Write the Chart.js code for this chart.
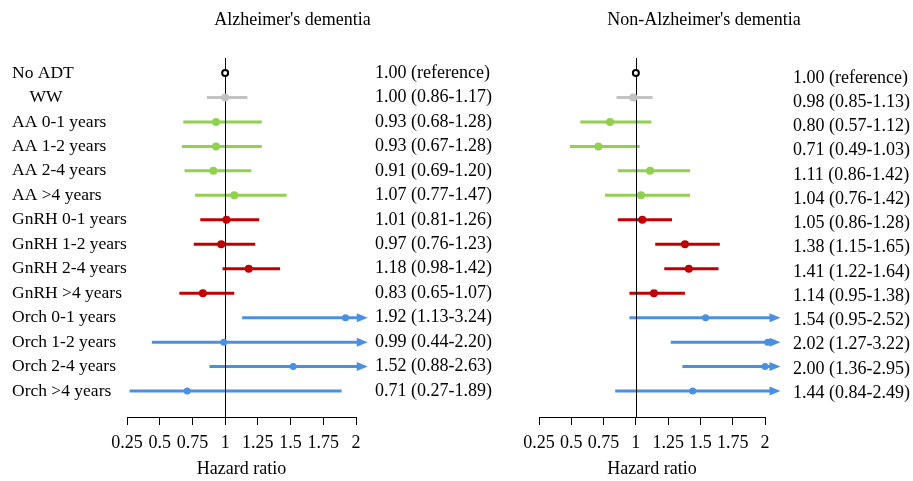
<!DOCTYPE html>
<html>
<head>
<meta charset="utf-8">
<script src="https://cdn.jsdelivr.net/npm/chart.js@4"></script>
<style>
  body { margin: 0; background: #fff; }
  #wrap { position: relative; width: 913px; height: 481px; overflow: hidden; }
  canvas { position: absolute; top: 0; }
</style>
</head>
<body>
<div id="wrap">
  <canvas id="adChart" width="573" height="481" style="left:0"></canvas>
  <canvas id="nonAdChart" width="453" height="481" style="left:460px"></canvas>
</div>
<script>
// Rows (top to bottom)
const rowLabels = [
  "No ADT",
  "    WW",
  "AA 0-1 years",
  "AA 1-2 years",
  "AA 2-4 years",
  "AA >4 years",
  "GnRH 0-1 years",
  "GnRH 1-2 years",
  "GnRH 2-4 years",
  "GnRH >4 years",
  "Orch 0-1 years",
  "Orch 1-2 years",
  "Orch 2-4 years",
  "Orch >4 years",
];
const rowGroups = ["ref", "ww", "aa", "aa", "aa", "aa", "gnrh", "gnrh", "gnrh", "gnrh", "orch", "orch", "orch", "orch"];
const xTicks = [0.25, 0.5, 0.75, 1, 1.25, 1.5, 1.75, 2];

// Alzheimer's dementia
const adHr = [1.0, 1.0, 0.93, 0.93, 0.91, 1.07, 1.01, 0.97, 1.18, 0.83, 1.92, 0.99, 1.52, 0.71];
const adLower = [null, 0.86, 0.68, 0.67, 0.69, 0.77, 0.81, 0.76, 0.98, 0.65, 1.13, 0.44, 0.88, 0.27];
const adUpper = [null, 1.17, 1.28, 1.28, 1.2, 1.47, 1.26, 1.23, 1.42, 1.07, 3.24, 2.2, 2.63, 1.89];

// Non-Alzheimer's dementia
const nonAdHr = [1.0, 0.98, 0.8, 0.71, 1.11, 1.04, 1.05, 1.38, 1.41, 1.14, 1.54, 2.02, 2.0, 1.44];
const nonAdLower = [null, 0.85, 0.57, 0.49, 0.86, 0.76, 0.86, 1.15, 1.22, 0.95, 0.95, 1.27, 1.36, 0.84];
const nonAdUpper = [null, 1.13, 1.12, 1.03, 1.42, 1.42, 1.28, 1.65, 1.64, 1.38, 2.52, 3.22, 2.95, 2.49];

const groupColors = {
  ref: "#000000",
  ww: "#c3c3c3",
  aa: "#92d050",
  gnrh: "#c00000",
  orch: "#4a90e2",
};

Chart.defaults.font.family = "'Liberation Serif', 'Times New Roman', serif";
Chart.defaults.font.size = 18;
Chart.defaults.color = "#000";

const Y_MIN = -0.613;
const Y_MAX = 14.06;

function estimateLabels(hr, lower, upper) {
  return hr.map((v, i) =>
    lower[i] == null
      ? v.toFixed(2) + " (reference)"
      : `${v.toFixed(2)} (${lower[i].toFixed(2)}-${upper[i].toFixed(2)})`
  );
}

// confidence interval lines, arrows and the HR = 1 line
const ciPlugin = {
  id: "ciBars",
  beforeDatasetsDraw(chart, args, opts) {
    const { ctx, chartArea } = chart;
    const x = chart.scales.x;
    const y = chart.scales.y;
    ctx.save();
    ctx.lineWidth = 3;
    opts.lower.forEach((lo, i) => {
      if (lo == null) return;
      const hi = opts.upper[i];
      const py = y.getPixelForValue(i);
      const x0 = x.getPixelForValue(lo);
      ctx.strokeStyle = groupColors[rowGroups[i]];
      ctx.fillStyle = groupColors[rowGroups[i]];
      ctx.beginPath();
      ctx.moveTo(x0, py);
      if (hi > x.max) {
        const tip = x.getPixelForValue(opts.arrowAt);
        ctx.lineTo(tip - 10, py);
        ctx.stroke();
        ctx.beginPath();
        ctx.moveTo(tip, py);
        ctx.lineTo(tip - 11, py - 4.5);
        ctx.lineTo(tip - 11, py + 4.5);
        ctx.closePath();
        ctx.fill();
      } else {
        ctx.lineTo(x.getPixelForValue(hi), py);
        ctx.stroke();
      }
    });
    const p1 = Math.round(x.getPixelForValue(1)) + 0.5;
    ctx.strokeStyle = "#000";
    ctx.lineWidth = 1;
    ctx.beginPath();
    ctx.moveTo(p1, chartArea.top);
    ctx.lineTo(p1, chartArea.bottom);
    ctx.stroke();
    ctx.restore();
  },
};

function makeChart(id, title, hr, lower, upper, panel) {
  const estimates = estimateLabels(hr, lower, upper);
  return new Chart(document.getElementById(id), {
    type: "scatter",
    data: {
      datasets: [
        {
          data: hr.map((v, i) => ({ x: v, y: i })),
          pointRadius: rowGroups.map((g) => (g === "ref" ? 3 : g === "orch" ? 3.5 : 4)),
          pointBackgroundColor: rowGroups.map((g) => (g === "ref" ? "#fff" : groupColors[g])),
          pointBorderColor: rowGroups.map((g) => groupColors[g]),
          pointBorderWidth: rowGroups.map((g) => (g === "ref" ? 2 : 0)),
          clip: false,
        },
      ],
    },
    options: {
      responsive: false,
      animation: false,
      events: [],
      layout: { padding: { left: panel.padLeft, right: 0, top: 0, bottom: 0 } },
      plugins: {
        legend: { display: false },
        tooltip: { enabled: false },
        title: {
          display: true,
          text: title,
          color: "#000",
          font: { size: 18, weight: "normal" },
          padding: { top: 9, bottom: 27.4 },
        },
        ciBars: { lower, upper, arrowAt: panel.arrowAt },
      },
      scales: {
        x: {
          type: "linear",
          min: 0.25,
          max: 2,
          afterBuildTicks: (s) => {
            s.ticks = xTicks.map((v) => ({ value: v }));
          },
          afterFit: (s) => {
            s.height = 64;
          },
          ticks: {
            autoSkip: false,
            maxRotation: 0,
            minRotation: 0,
            padding: 7,
            callback: (v) => String(v),
          },
          grid: { drawOnChartArea: false, drawTicks: true, tickLength: 8, color: "#000" },
          border: { display: true, color: "#000" },
          title: { display: true, text: "Hazard ratio", padding: { top: 0, bottom: 1 } },
        },
        y: {
          type: "linear",
          reverse: true,
          min: Y_MIN,
          max: Y_MAX,
          afterBuildTicks: (s) => {
            s.ticks = rowLabels.map((_, i) => ({ value: i }));
          },
          afterFit: (s) => {
            s.width = panel.rowWidth;
          },
          ticks: {
            display: panel.showRows,
            autoSkip: false,
            crossAlign: "far",
            font: { size: 17.5 },
            callback: (v) => rowLabels[v],
          },
          grid: { display: false, drawTicks: false },
          border: { display: false },
        },
        y2: {
          type: "linear",
          position: "right",
          reverse: true,
          min: panel.estMin,
          max: panel.estMax,
          afterBuildTicks: (s) => {
            s.ticks = estimates.map((_, i) => ({ value: i }));
          },
          afterFit: (s) => {
            s.width = panel.estWidth;
          },
          ticks: { autoSkip: false, padding: panel.estPadding, callback: (v) => estimates[v] },
          grid: { display: false, drawTicks: false },
          border: { display: false },
        },
      },
    },
    plugins: [ciPlugin],
  });
}

const adChart = makeChart("adChart", "Alzheimer's dementia", adHr, adLower, adUpper, {
  showRows: true,
  padLeft: 12,
  rowWidth: 115,
  estWidth: 217,
  estPadding: 19,
  estMin: Y_MIN,
  estMax: Y_MAX,
  arrowAt: 2.09,
});

const nonAdChart = makeChart("nonAdChart", "Non-Alzheimer's dementia", nonAdHr, nonAdLower, nonAdUpper, {
  showRows: false,
  padLeft: 35,
  rowWidth: 44,
  estWidth: 148,
  estPadding: 28,
  estMin: -0.825,
  estMax: 13.99,
  arrowAt: 2.12,
});
</script>
</body>
</html>
